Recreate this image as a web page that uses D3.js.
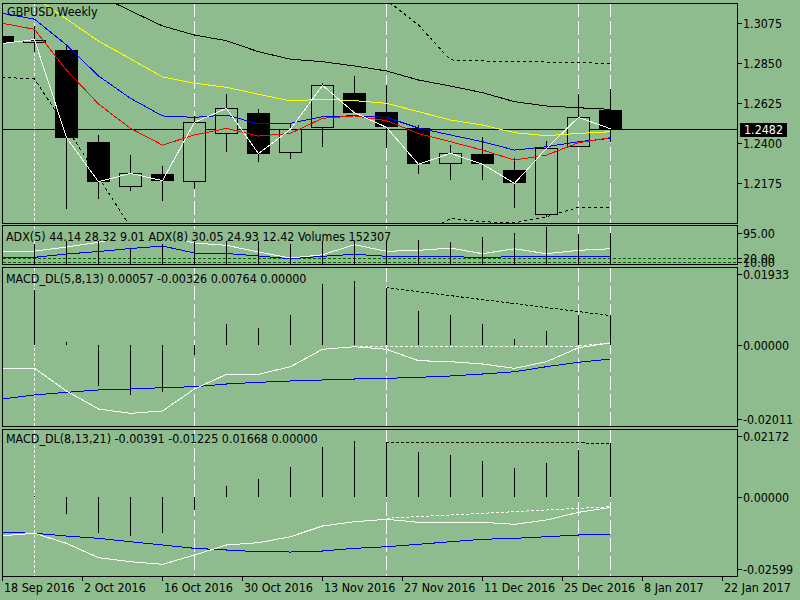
<!DOCTYPE html>
<html>
<head>
<meta charset="utf-8">
<script src="https://cdn.jsdelivr.net/npm/d3@7"></script>
<style>
  html, body { margin: 0; padding: 0; background: #8fbc8f; }
  svg { display: block; font-family: "DejaVu Sans Condensed", "DejaVu Sans", sans-serif; font-stretch: condensed; font-size: 12.4px; }
</style>
</head>
<body>
<svg id="chart" width="800" height="600"></svg>
<script>
// Weekly GBPUSD bars (oldest first)
const opens  = [1.3004, 1.2964, 1.2925, 1.2406, 1.2153, 1.2227, 1.2184, 1.2451, 1.2569, 1.2344, 1.2484, 1.2681, 1.2574, 1.2488, 1.2282, 1.2340, 1.2250, 1.1997, 1.2378, 1.2587];
const highs  = [1.3035, 1.3060, 1.2949, 1.2447, 1.2334, 1.2272, 1.2554, 1.2676, 1.2591, 1.2513, 1.2741, 1.2779, 1.2728, 1.2503, 1.2390, 1.2437, 1.2316, 1.2415, 1.2677, 1.2704];
const lows   = [1.2950, 1.2915, 1.2029, 1.2085, 1.2133, 1.2077, 1.2141, 1.2353, 1.2297, 1.2310, 1.2381, 1.2572, 1.2372, 1.2226, 1.2194, 1.2194, 1.2034, 1.1987, 1.2378, 1.2409];
const closes = [1.2962, 1.2983, 1.2432, 1.2184, 1.2231, 1.2190, 1.2518, 1.2597, 1.2342, 1.2479, 1.2726, 1.2572, 1.2490, 1.2282, 1.2344, 1.2282, 1.2175, 1.2372, 1.2546, 1.2482];

// price overlays
const blackMA  = [1.3499, 1.3409, 1.3319, 1.3233, 1.3145, 1.3060, 1.3009, 1.2977, 1.2915, 1.2873, 1.2859, 1.2835, 1.2807, 1.2756, 1.2722, 1.2685, 1.2634, 1.2610, 1.2600, 1.2591];
const yellowMA = [1.3347, 1.3221, 1.3099, 1.2975, 1.2875, 1.2773, 1.2738, 1.2715, 1.2676, 1.2638, 1.2648, 1.2640, 1.2625, 1.2578, 1.2531, 1.2503, 1.2460, 1.2443, 1.2456, 1.2465];
const blueMA   = [1.3131, 1.3098, 1.2953, 1.2779, 1.2653, 1.2554, 1.2546, 1.2559, 1.2509, 1.2513, 1.2550, 1.2555, 1.2546, 1.2486, 1.2447, 1.2409, 1.2362, 1.2381, 1.2409, 1.2428];
const redMA    = [1.3075, 1.3041, 1.2812, 1.2621, 1.2484, 1.2390, 1.2447, 1.2484, 1.2441, 1.2456, 1.2541, 1.2554, 1.2527, 1.2455, 1.2409, 1.2362, 1.2306, 1.2334, 1.2403, 1.2432];
const upperBand = [1.4000, 1.4000, 1.4000, 1.3900, 1.3900, 1.3800, 1.3800, 1.3700, 1.3600, 1.3500, 1.3450, 1.3350, 1.3206, 1.3065, 1.2869, 1.2863, 1.2860, 1.2857, 1.2853, 1.2850];
const lowerBand = [1.2771, 1.2762, 1.2487, 1.2209, 1.1930, 1.1750, 1.1680, 1.1650, 1.1650, 1.1650, 1.1680, 1.1720, 1.1800, 1.1880, 1.1977, 1.1959, 1.1953, 1.1987, 1.2040, 1.2040];
const priceTicks = [1.3075, 1.2850, 1.2625, 1.2400, 1.2175];

// ADX / volume panel
const adxWhite = [41.5, 41.5, 53.4, 67.3, 86, 86, 65.2, 58.4, 38.5, 20.8, 30.5, 60.2, 40.6, 43.6, 50.4, 33.5, 48.3, 33.5, 43.6, 48.3];
const adxBlue  = [22.8, 22.8, 32.6, 40, 48.9, 56.3, 35.6, 34.1, 26.7, 18.7, 25.8, 31.7, 25.8, 23.7, 25.8, 20.8, 25.8, 25.8, 23.7, 25.8];
const volumes  = [110000, 101400, 129900, 129900, 82300, 101400, 109500, 141400, 152300, 101400, 125200, 144200, 133300, 120400, 109500, 133300, 152300, 180900, 149000, 152307];
const adxLevels = [20, 10];
const adxTicks = [95, 20, 10];

// MACD_DL(5,8,13)
const m1Hist   = [0, 0.01496, 0.00073, -0.01107, -0.0136, -0.0127, -0.0027, 0.00563, 0.0047, 0.00816, 0.0166, 0.0175, 0.0154, 0.00925, 0.00816, 0.00571, 0.00163, 0.00381, 0.00816, 0.0080];
const m1Main   = [-0.00634, -0.00634, -0.01251, -0.01741, -0.01858, -0.01795, -0.01197, -0.00797, -0.00797, -0.0059, -0.00117, -0.00046, -0.00117, -0.00427, -0.00454, -0.00517, -0.00634, -0.00454, -0.00073, 0.00057];
const m1Signal = [-0.01469, -0.0136, -0.01287, -0.01224, -0.01197, -0.01161, -0.01134, -0.01061, -0.01015, -0.00979, -0.00952, -0.00925, -0.00907, -0.00879, -0.00843, -0.00789, -0.00729, -0.0059, -0.00471, -0.0038];
const m1HistTrend = [[12, 0.0156], [19, 0.0080]];
const m1MainTrend = [[11, -0.0003], [18, -0.0003], [19, 0.00057]];
const m1Ticks = [0.01933, 0, -0.02011];

// MACD_DL(8,13,21)
const m2Hist   = [0, 0.0002, -0.00634, -0.01289, -0.01396, -0.01289, -0.00481, 0.00374, 0.00623, 0.0104, 0.01752, 0.01977, 0.01916, 0.01574, 0.01478, 0.01264, 0.01004, 0.01182, 0.01656, 0.01895];
const m2Main   = [-0.01396, -0.01311, -0.01667, -0.02179, -0.02322, -0.02415, -0.02083, -0.01727, -0.01645, -0.01432, -0.01051, -0.00897, -0.00812, -0.00919, -0.00919, -0.00919, -0.0099, -0.00837, -0.00563, -0.00391];
const m2Signal = [-0.01275, -0.01311, -0.01407, -0.01489, -0.0161, -0.01727, -0.01845, -0.01905, -0.01966, -0.01977, -0.01941, -0.01845, -0.01788, -0.01702, -0.0161, -0.01524, -0.01489, -0.01432, -0.01371, -0.01335];
const m2HistTrend = [[12, 0.0194], [19, 0.0190]];
const m2MainTrend = [[12, -0.00776], [19, -0.00363]];
const m2Ticks = [0.02172, 0, -0.02599];

// vertical marker lines (bar indexes) and time axis labels
const markerBars = [1, 6, 12, 18, 19];
const dateLabels = ['2016-09-18', '2016-10-02', '2016-10-16', '2016-10-30', '2016-11-13', '2016-11-27', '2016-12-11', '2016-12-25', '2017-01-08', '2017-01-22'];

const bg = '#8fbc8f';
const left = 2.5, right = 737.5;
const panels = {
  main: { top: 3, bottom: 223 },
  adx:  { top: 225.5, bottom: 264.5 },
  m1:   { top: 267.5, bottom: 426.5 },
  m2:   { top: 429.5, bottom: 576.5 }
};

const svg = d3.select('#chart').attr('shape-rendering', 'crispEdges');
svg.append('rect').attr('width', 800).attr('height', 600).attr('fill', bg);
const defs = svg.append('defs');

// scales
const xBar = d3.scaleLinear().domain([0, closes.length - 1]).range([2.5, 610.5]);
const yMain = d3.scaleLinear().domain([1.1952, 1.3189]).range([223, 3]);
const yAdx = d3.scaleLinear().domain([0, 95]).range([265, 233]);
const yVol = d3.scaleLinear().domain([0, 152307]).range([265, 233]);
const yM1 = d3.scaleLinear().domain([0, 0.01933]).range([345, 273.94]);
const yM2 = d3.scaleLinear().domain([0, 0.02172]).range([496.5, 435.5]);
const parseDate = d3.timeParse('%Y-%m-%d');
const dates = dateLabels.map(parseDate);
const xTime = d3.scaleTime().domain(d3.extent(dates)).range([2.5, 722.5]);

// one group per panel, clipped to its frame
function makePanel(key) {
  const p = panels[key];
  defs.append('clipPath').attr('id', 'clip-' + key)
    .append('rect').attr('x', left).attr('y', p.top).attr('width', right - left).attr('height', p.bottom - p.top);
  return svg.append('g').attr('clip-path', `url(#clip-${key})`);
}

function drawSeries(g, values, y, color, dash) {
  const line = d3.line().x((d, i) => xBar(i)).y(d => y(d));
  g.append('path').datum(values)
    .attr('d', line).attr('fill', 'none')
    .attr('stroke', color).attr('stroke-width', 1)
    .attr('stroke-dasharray', dash || null);
}

function drawTrend(g, pts, y, color) {
  const line = d3.line().x(d => xBar(d[0])).y(d => y(d[1]));
  g.append('path').datum(pts).attr('d', line).attr('fill', 'none')
    .attr('stroke', color).attr('stroke-dasharray', '3,2');
}

function drawMarkers(key) {
  const p = panels[key];
  const g = svg.append('g');
  g.selectAll('line').data(markerBars).join('line')
    .attr('x1', d => xBar(d)).attr('x2', d => xBar(d))
    .attr('y1', p.top).attr('y2', p.bottom)
    .attr('stroke', '#fff')
    .attr('stroke-dasharray', (d, i) => i === 0 ? '3,2' : '14,4');
}

function drawFrame(key) {
  const p = panels[key];
  svg.append('rect').attr('x', left).attr('y', p.top)
    .attr('width', right - left).attr('height', p.bottom - p.top)
    .attr('fill', 'none').attr('stroke', '#000');
}

function drawRightAxis(ticks, y, fmt, size) {
  const g = svg.append('g');
  ticks.forEach(t => {
    const yy = Math.round(y(t)) + 0.5;
    g.append('line').attr('x1', right).attr('x2', right + 4).attr('y1', yy).attr('y2', yy).attr('stroke', '#000');
    g.append('text').attr('x', 743).attr('y', yy).attr('dy', '0.35em').attr('fill', '#000')
      .style('font-size', size || null).text(fmt(t));
  });
}

function drawHistogram(g, values, y) {
  g.selectAll('line.hist').data(values).join('line').attr('class', 'hist')
    .attr('x1', (d, i) => xBar(i)).attr('x2', (d, i) => xBar(i))
    .attr('y1', y(0)).attr('y2', d => y(d))
    .attr('stroke', '#000');
}

function label(x, y, txt, withBg) {
  const t = svg.append('text').attr('x', x).attr('y', y).attr('fill', '#000').text(txt);
  if (withBg) {
    const b = t.node().getBBox();
    svg.insert('rect', () => t.node())
      .attr('x', b.x).attr('y', b.y).attr('width', b.width).attr('height', b.height - 3)
      .attr('fill', bg);
  }
  return t;
}

// ---- main price panel ----
drawMarkers('main');
const gMain = makePanel('main');
const lastY = Math.round(yMain(closes[closes.length - 1])) + 0.5;
gMain.append('line').attr('x1', left).attr('x2', right).attr('y1', lastY).attr('y2', lastY).attr('stroke', '#000');

const candles = gMain.append('g');
closes.forEach((c, i) => {
  const cx = xBar(i);
  const o = opens[i];
  candles.append('line').attr('x1', cx).attr('x2', cx)
    .attr('y1', yMain(highs[i])).attr('y2', yMain(lows[i])).attr('stroke', '#000');
  const top = Math.round(yMain(Math.max(o, c)));
  const bot = Math.round(yMain(Math.min(o, c)));
  if (c < o) {
    candles.append('rect').attr('x', cx - 11.5).attr('y', top)
      .attr('width', 23).attr('height', Math.max(1, bot - top)).attr('fill', '#000');
  } else {
    candles.append('rect').attr('x', cx - 11).attr('y', top + 0.5)
      .attr('width', 22).attr('height', Math.max(1, bot - top - 1))
      .attr('fill', bg).attr('stroke', '#000');
  }
});

drawSeries(gMain, blackMA, yMain, '#000');
drawSeries(gMain, upperBand, yMain, '#000', '3,3');
drawSeries(gMain, lowerBand, yMain, '#000', '3,3');
drawSeries(gMain, yellowMA, yMain, '#ffff00');
drawSeries(gMain, blueMA, yMain, '#0000ff');
drawSeries(gMain, redMA, yMain, '#ff0000');
drawSeries(gMain, closes, yMain, '#ffffff');
drawFrame('main');
drawRightAxis(priceTicks, yMain, d => d.toFixed(4));

// current price box
svg.append('rect').attr('x', 740).attr('y', lastY - 7).attr('width', 47).attr('height', 14).attr('fill', '#000');
svg.append('text').attr('x', 744).attr('y', lastY).attr('dy', '0.35em').attr('fill', '#fff')
  .text(closes[closes.length - 1].toFixed(4));
label(7, 16, 'GBPUSD,Weekly');

// ---- ADX + volumes panel ----
drawMarkers('adx');
const gAdx = makePanel('adx');
adxLevels.forEach(v => {
  const yy = Math.round(yAdx(v)) + 0.5;
  gAdx.append('line').attr('x1', left).attr('x2', right).attr('y1', yy).attr('y2', yy)
    .attr('stroke', '#006400').attr('stroke-dasharray', '3,2');
});
drawSeries(gAdx, adxWhite, yAdx, '#ffffff');
drawSeries(gAdx, adxBlue, yAdx, '#0000ff');
gAdx.selectAll('line.vol').data(volumes).join('line').attr('class', 'vol')
  .attr('x1', (d, i) => xBar(i)).attr('x2', (d, i) => xBar(i))
  .attr('y1', yVol(0)).attr('y2', d => yVol(d)).attr('stroke', '#000');
label(6, 241, 'ADX(5) 44.14 28.32 9.01 ADX(8) 30.05 24.93 12.42 Volumes 152307', true);
drawFrame('adx');
drawRightAxis(adxTicks, yAdx, d => d.toFixed(2));

// ---- MACD_DL(5,8,13) ----
drawMarkers('m1');
const gM1 = makePanel('m1');
drawHistogram(gM1, m1Hist, yM1);
drawSeries(gM1, m1Signal, yM1, '#0000ff');
drawSeries(gM1, m1Main, yM1, '#ffffff');
drawTrend(gM1, m1HistTrend, yM1, '#000');
drawTrend(gM1, m1MainTrend, yM1, '#fff');
label(6, 283, 'MACD_DL(5,8,13) 0.00057 -0.00326 0.00764 0.00000');
drawFrame('m1');
drawRightAxis(m1Ticks, yM1, d => d.toFixed(5));

// ---- MACD_DL(8,13,21) ----
drawMarkers('m2');
const gM2 = makePanel('m2');
drawHistogram(gM2, m2Hist, yM2);
drawSeries(gM2, m2Signal, yM2, '#0000ff');
drawSeries(gM2, m2Main, yM2, '#ffffff');
drawTrend(gM2, m2HistTrend, yM2, '#000');
drawTrend(gM2, m2MainTrend, yM2, '#fff');
label(6, 443, 'MACD_DL(8,13,21) -0.00391 -0.01225 0.01668 0.00000');
drawFrame('m2');
drawRightAxis(m2Ticks, yM2, d => d.toFixed(5));

// ---- time axis ----
const fmtDate = d3.timeFormat('%-d %b %Y');
const gx = svg.append('g');
dates.forEach(d => {
  const xx = xTime(d);
  gx.append('line').attr('x1', xx).attr('x2', xx).attr('y1', panels.m2.bottom).attr('y2', 581).attr('stroke', '#000');
  gx.append('text').attr('x', xx + 1.5).attr('y', 592).attr('fill', '#000').text(fmtDate(d));
});
</script>
</body>
</html>
